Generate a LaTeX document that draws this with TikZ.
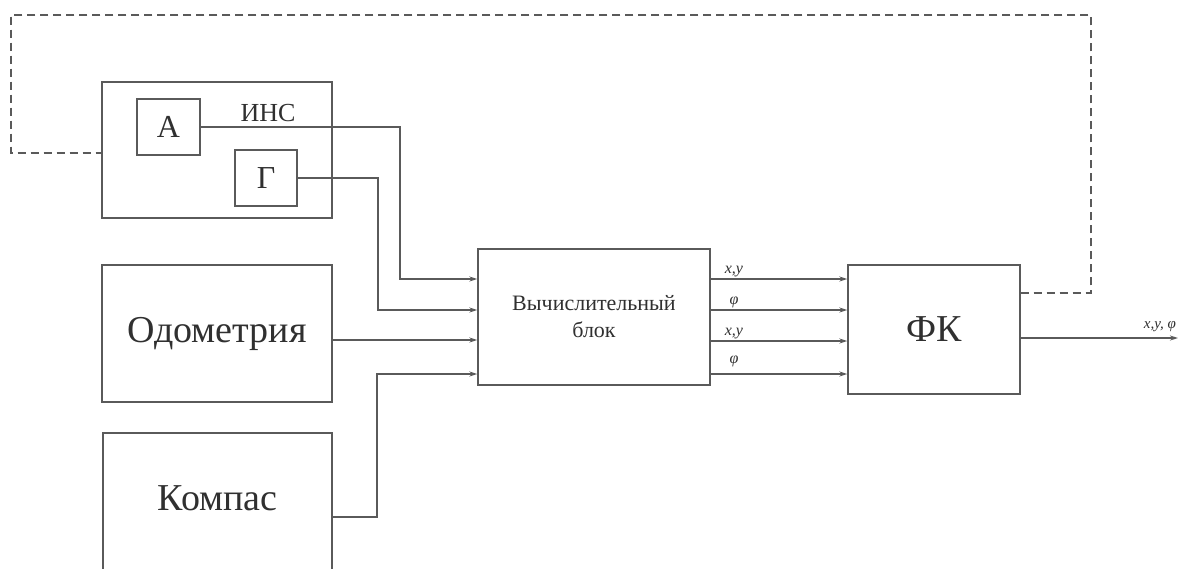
\documentclass[tikz,border=0pt]{standalone}
\usepackage{fontspec}
\setmainfont{Liberation Serif}
\usetikzlibrary{arrows.meta}
\definecolor{ln}{HTML}{5A5A5A}
\definecolor{tx}{HTML}{303030}
\tikzset{
  blk/.style={draw=ln, line width=1.4pt, inner sep=0pt, text=tx},
  big/.style={font=\fontsize{38}{44}\selectfont},
  wire/.style={draw=ln, line width=1.4pt},
  arr/.style={wire, -{Stealth[length=8pt,width=5pt]}},
  fb/.style={draw=ln, line width=1.3pt, dash pattern=on 8pt off 5pt},
  sig/.style={font=\fontsize{16}{18}\selectfont\itshape, text=tx, inner sep=1pt}
}
\begin{document}
\begin{tikzpicture}[x=1pt,y=-1pt]
\useasboundingbox (0,0) rectangle (1200,568);
\fill[white] (0,0) rectangle (1200,568);
% blocks
\node[blk, minimum width=230pt, minimum height=136pt] (ins) at (217,150) {};
\node[blk, font=\fontsize{32}{36}\selectfont, minimum width=63pt, minimum height=56pt] (A) at (168.5,127) {А};
\node[blk, font=\fontsize{32}{36}\selectfont, minimum width=62pt, minimum height=56pt] (G) at (266,178) {Г};
\node[text=tx, font=\fontsize{26}{30}\selectfont] (inslbl) at (268,113) {ИНС};
\node[blk, big, minimum width=230pt, minimum height=137pt] (odo) at (217,333.5) {Одометрия};
\node[blk, minimum width=229pt, minimum height=142pt] (comp) at (217.5,504) {};
\node[big, text=tx] (comptxt) at (217.5,498) {Компас};
\node[blk, font=\fontsize{22}{26}\selectfont, align=center, minimum width=232pt, minimum height=136pt] (vych) at (594,317) {Вычислительный\\[1pt]блок};
\node[blk, big, minimum width=172pt, minimum height=129pt] (fk) at (934,329.5) {ФК};
% inputs to computing block
\draw[arr] (A.east) -- (A.east -| 400,0) |- (vych.west |- 0,279);
\draw[arr] (G.east) -- (G.east -| 378,0) |- (vych.west |- 0,310);
\draw[arr] (odo.east |- 0,340) -- (vych.west |- 0,340);
\draw[arr] (comp.east |- 0,517) -- (377,517) |- (vych.west |- 0,374);
% outputs to filter
\draw[arr] (vych.east |- 0,279) -- node[sig, pos=0.17, above] {x,y} (fk.west |- 0,279);
\draw[arr] (vych.east |- 0,310) -- node[sig, pos=0.17, above] {φ} (fk.west |- 0,310);
\draw[arr] (vych.east |- 0,341) -- node[sig, pos=0.17, above] {x,y} (fk.west |- 0,341);
\draw[arr] (vych.east |- 0,374) -- node[sig, pos=0.17, above=5pt] {φ} (fk.west |- 0,374);
% final output
\coordinate (out) at (1178,338);
\draw[arr] (fk.east |- out) -- (out);
\node[sig, font=\fontsize{15}{17}\selectfont\itshape] (outlbl) at (1160,327) {x,y, φ};
% feedback (dashed)
\coordinate (c1) at (1091,293);
\coordinate (c2) at (1091,15);
\coordinate (c3) at (11,15);
\coordinate (c4) at (11,153);
\draw[fb] (fk.east |- c1) -- (c1) -- (c2) -- (c3) -- (c4) -- (ins.west |- c4);
\end{tikzpicture}
\end{document}
